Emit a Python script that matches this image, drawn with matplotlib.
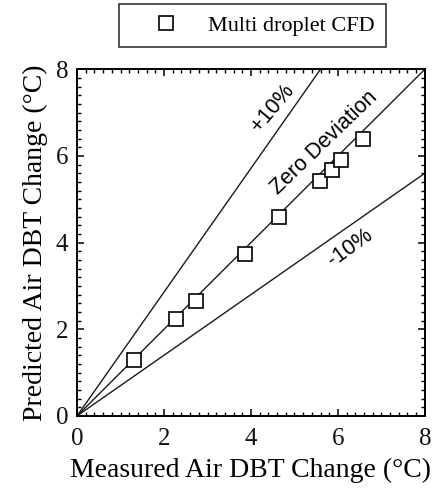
"""Predicted vs measured air DBT change with deviation lines."""

import matplotlib

matplotlib.use("Agg")

import matplotlib.pyplot as plt
import numpy as np
from matplotlib.ticker import MultipleLocator


measured = [1.31, 2.28, 2.74, 3.86, 4.64, 5.59, 5.87, 6.07, 6.58]
predicted = [1.29, 2.23, 2.65, 3.73, 4.60, 5.42, 5.67, 5.90, 6.40]

# reference lines: label -> slope
line_slopes = {"zero": 1.0, "plus": 1.0 / 0.7, "minus": 0.7}
axis_max = 8.0
tick_values = [0, 2, 4, 6, 8]

SERIF = "Liberation Serif"
SANS = "Liberation Sans"


def main() -> None:
    fig = plt.figure(figsize=(4.38, 4.91), dpi=100)
    ax = fig.add_axes([0.176, 0.153, 0.794, 0.706])

    xs = np.array([0.0, axis_max])
    for slope in line_slopes.values():
        x_end = min(axis_max, axis_max / slope)
        ax.plot([0.0, x_end], [0.0, x_end * slope], color="#1a1a1a", linewidth=1.0)

    ax.plot(
        measured,
        predicted,
        linestyle="none",
        marker="s",
        markersize=9.5,
        markerfacecolor="white",
        markeredgecolor="black",
        markeredgewidth=1.2,
        label="Multi droplet CFD",
    )

    ax.set_xlim(xs[0], xs[1])
    ax.set_ylim(xs[0], xs[1])
    ax.set_xticks(tick_values)
    ax.set_yticks(tick_values)
    ax.xaxis.set_minor_locator(MultipleLocator(0.2))
    ax.yaxis.set_minor_locator(MultipleLocator(0.2))
    ax.tick_params(which="both", direction="in", top=True, right=True, color="black")
    ax.tick_params(which="major", length=5, width=1.1)
    ax.tick_params(which="minor", length=2.8, width=1.0)
    ax.tick_params(axis="x", which="major", pad=8.5)
    ax.tick_params(axis="y", which="major", pad=6.5)
    for label in ax.get_xticklabels() + ax.get_yticklabels():
        label.set_fontfamily(SERIF)
        label.set_fontsize(18)
        label.set_color("#111111")
    for spine in ax.spines.values():
        spine.set_linewidth(1.4)

    ax.set_xlabel("Measured Air DBT Change (°C)", family=SERIF, fontsize=20, labelpad=6)
    ax.set_ylabel("Predicted Air DBT Change (°C)", family=SERIF, fontsize=20, labelpad=5.5)

    ax.text(5.69, 6.31, "Zero Deviation", family=SANS, fontsize=15.5,
            rotation=44, ha="center", va="center", rotation_mode="anchor")
    ax.text(4.49, 7.09, "+10%", family=SANS, fontsize=15.5,
            rotation=50, ha="center", va="center", rotation_mode="anchor")
    ax.text(6.28, 3.87, "-10%", family=SANS, fontsize=15.5,
            rotation=36, ha="center", va="center", rotation_mode="anchor")

    legend = fig.legend(
        loc="center",
        bbox_to_anchor=(0.5765, 0.948),
        prop={"family": SERIF, "size": 16},
        numpoints=1,
        frameon=True,
        fancybox=False,
        edgecolor="black",
        borderpad=0.5,
        handlelength=3.2,
        handletextpad=0.3,
    )
    legend.get_frame().set_linewidth(1.2)

    fig.savefig("out.png", dpi=100)
    plt.close(fig)


if __name__ == "__main__":
    main()
